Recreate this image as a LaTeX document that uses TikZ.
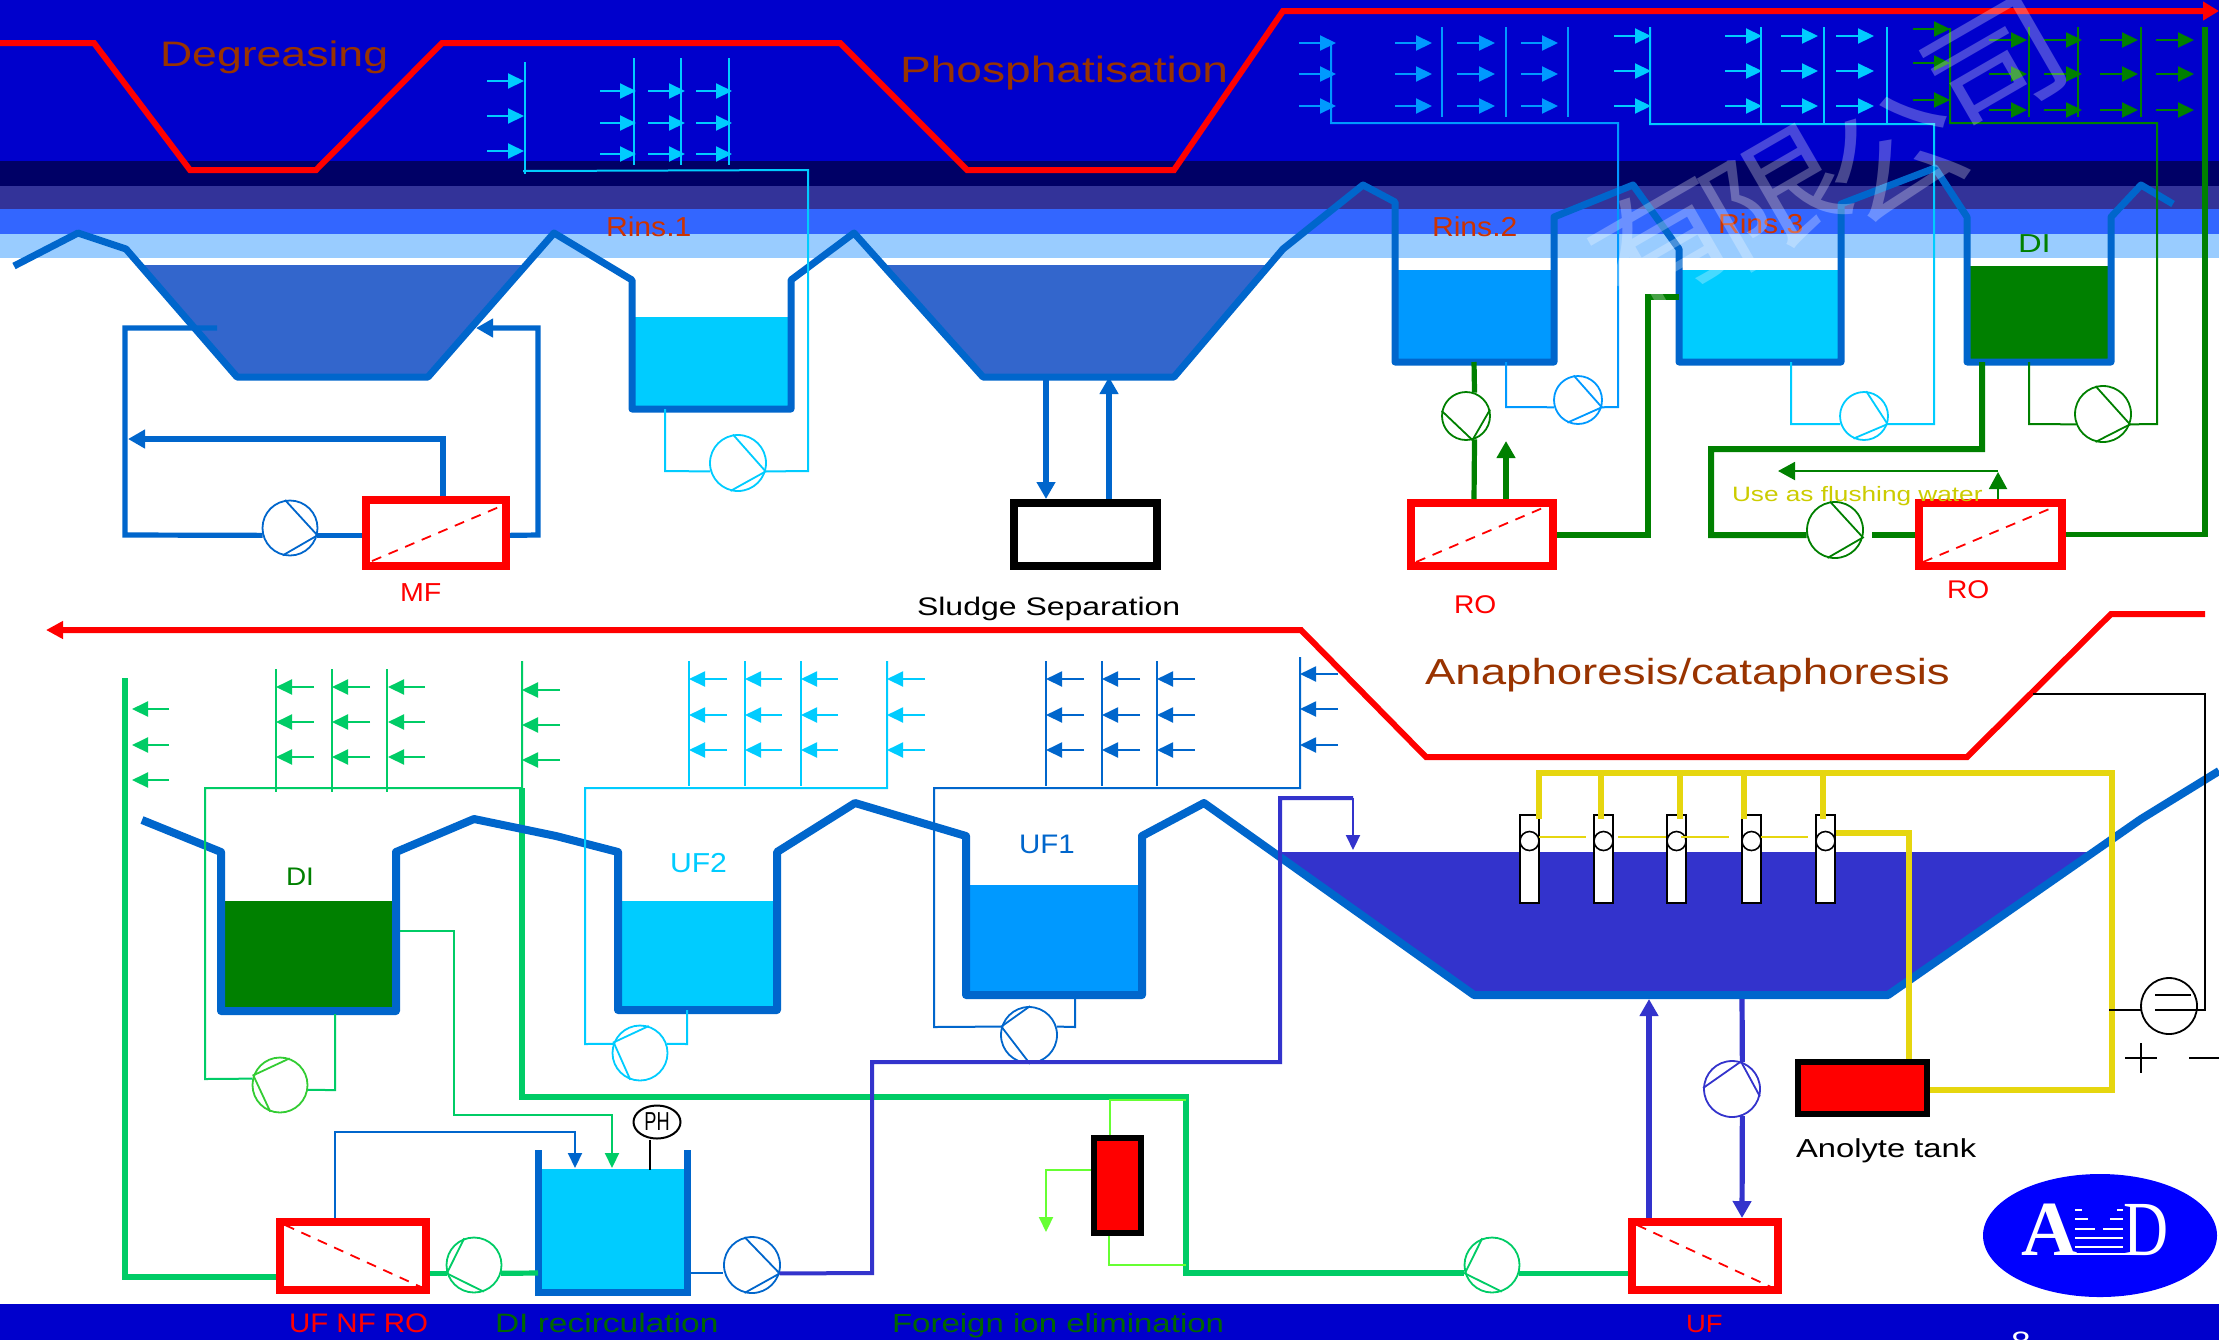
\documentclass[tikz,border=0pt]{standalone}
\usepackage{fontspec}
\setmainfont[FakeStretch=1.26]{Liberation Sans}
\newfontfamily\narrowf[FakeStretch=1.1]{Liberation Sans}
\newfontfamily\phf[FakeStretch=.7]{Liberation Sans}
\newfontfamily\cjkwm[FakeStretch=1.15]{Noto Sans CJK SC}
\newfontfamily\logoA{Liberation Serif}
\newfontfamily\logoD[FakeStretch=.8]{Liberation Serif}
\usetikzlibrary{arrows.meta,shapes.geometric}
\definecolor{bgblue}{HTML}{0000CC}
\definecolor{banda}{HTML}{000066}
\definecolor{bandb}{HTML}{333399}
\definecolor{bandc}{HTML}{3366FF}
\definecolor{bandd}{HTML}{99CCFF}
\definecolor{wallc}{HTML}{0066CC}
\definecolor{bathc}{HTML}{3366CC}
\definecolor{cyanw}{HTML}{00CCFF}
\definecolor{skyw}{HTML}{0099FF}
\definecolor{digreen}{HTML}{008000}
\definecolor{lgreen}{HTML}{00CC66}
\definecolor{mgreen}{HTML}{33CC33}
\definecolor{limec}{HTML}{66FF33}
\definecolor{purp}{HTML}{3333CC}
\definecolor{yell}{HTML}{E6D60F}
\definecolor{brownc}{HTML}{993300}
\definecolor{rinsc}{HTML}{CC3300}
\definecolor{flush}{HTML}{CCCC00}
\definecolor{dgtext}{HTML}{006600}
\definecolor{logoblue}{HTML}{0000FF}
\tikzset{
  redline/.style={red,line width=3pt,line join=miter},
  walls/.style={wallc,line width=3.5pt,line join=round,line cap=butt},
  wallsb/.style={walls,line width=4pt},
  thinp/.style={line width=1pt,line join=miter},
  midp/.style={line width=2pt,line join=miter},
  thickp/.style={line width=2.6pt,line join=miter},
  spr/.style={line width=1pt,-{Triangle[length=8pt,width=7.5pt]}},
  bigtip/.style={-{Triangle[length=8.5pt,width=9pt]}},
  smalltip/.style={-{Triangle[length=7.5pt,width=7pt]}},
  pumpc/.style={circle,inner sep=0pt,line width=.9pt},
  filt/.style={rectangle,draw=red,fill=white,line width=4pt,inner sep=0pt},
  tankbox/.style={rectangle,draw=black,fill=#1,line width=2.8pt,inner sep=0pt},
  cell/.style={rectangle,draw=black,fill=white,line width=.8pt,inner sep=0pt,minimum width=9.5pt,minimum height=44pt},
  cellc/.style={circle,draw=black,fill=white,line width=.8pt,inner sep=0pt,minimum size=9.5pt},
  dashd/.style={red,line width=.9pt,dash pattern=on 5pt off 4pt},
  txt/.style={anchor=base west,inner sep=0pt,outer sep=0pt},
  wm/.style={inner sep=0pt,text=white,text opacity=.28,rotate=30,font=\cjkwm\fontsize{62}{62}\selectfont},
}
\newcommand\pump[8]{%
  \node[pumpc,draw=#5,minimum size=#4*0.5pt] (#1) at (#2,#3) {};
  \draw[#5,line width=.9pt] (#1.#6) -- (#1.#7) -- (#1.#8);}
\newcommand\lab[6]{\node[txt,text=#4,font=\fontsize{#5}{#5}\selectfont] (#1) at (#2,#3) {#6};}
\newcommand\nlab[6]{\node[txt,text=#4,font=\narrowf\fontsize{#5}{#5}\selectfont] (#1) at (#2,#3) {#6};}
\newcommand\hdr[4]{\foreach \xx in {#2}{\draw[#1,thinp] (\xx,#3) -- (\xx,#4);}}
\newcommand\sprays[4]{\foreach \yy in {#4}{\draw[spr,#1] (#2,\yy) -- (#3,\yy);}}
\begin{document}
\begin{tikzpicture}[x=0.5pt,y=-0.5pt]
\useasboundingbox (0,0) rectangle (2219,1340);
\clip (0,0) rectangle (2219,1340);
\fill[white] (0,0) rectangle (2219,1340);
% background bands
\fill[bgblue] (0,0) rectangle (2219,161);
\fill[banda] (0,161) rectangle (2219,186);
\fill[bandb] (0,186) rectangle (2219,209);
\fill[bandc] (0,209) rectangle (2219,234);
\fill[bandd] (0,234) rectangle (2219,258);
\fill[bgblue] (0,1304) rectangle (2219,1340);
% top conveyor
\draw[redline,-{Triangle[length=8pt,width=9pt]}] (0,43) -- (94,43) -- (190,170) -- (316,170) -- (442,43) -- (840,43) -- (967,170) -- (1174,170) -- (1283,11) -- (2219,11);
% liquids upper row
\fill[bathc] (140,265) -- (526,265) -- (428,377) -- (237,377) -- cycle;
\fill[bathc] (882,265) -- (1270,265) -- (1174,377) -- (983,377) -- cycle;
\fill[cyanw] (632,317) rectangle (791,409);
\fill[skyw] (1395,270) rectangle (1554,362);
\fill[cyanw] (1679,270) rectangle (1841,362);
\fill[digreen] (1967,266) rectangle (2111,362);
% liquids lower row
\fill[digreen] (221,901) rectangle (396,1011);
\fill[cyanw] (618,901) rectangle (777,1010);
\fill[skyw] (966,885) rectangle (1142,995);
\fill[purp] (1278,852) -- (2090,852) -- (1888,995) -- (1474,995) -- cycle;
\fill[cyanw] (538,1169) rectangle (687,1292);
% feed of the foreign ion line sits under the walls
\draw[lgreen,thickp] (522,788) -- (522,1097) -- (1186,1097) -- (1186,1273) -- (1464,1273);
% tank walls
\draw[walls] (14,266) -- (78,233) -- (126,249) -- (237,377) -- (428,377) -- (554,233) -- (632,280) -- (632,409) -- (791,409) -- (791,280) -- (854,233) -- (983,377) -- (1174,377) -- (1283,249) -- (1363,185) -- (1395,202) -- (1395,362) -- (1554,362) -- (1554,217) -- (1633,185) -- (1679,249) -- (1679,362) -- (1841,362) -- (1841,204) -- (1935,168) -- (1967,217) -- (1967,362) -- (2111,362) -- (2111,217) -- (2141,185) -- (2173,204);
\draw[wallsb] (142,820) -- (221,852) -- (221,1011) -- (396,1011) -- (396,852) -- (474,819) -- (556,836) -- (618,852) -- (618,1010) -- (777,1010) -- (777,852) -- (855,803) -- (966,836) -- (966,995) -- (1142,995) -- (1142,836) -- (1204,803) -- (1474,995) -- (1888,995) -- (2141,819) -- (2219,771);
\draw[wallc,line width=3.5pt] (538,1150) -- (538,1292) -- (687,1292) -- (687,1150);
% process boxes
\node[filt,minimum width=70pt,minimum height=33pt] (mf) at (436,533) {};
\node[filt,minimum width=71pt,minimum height=31.5pt] (ro1) at (1482,534.5) {};
\node[filt,minimum width=71.5pt,minimum height=31.5pt] (ro2) at (1990.5,534.5) {};
\node[filt,draw=black,minimum width=71.5pt,minimum height=31.5pt] (sludge) at (1085.5,534.5) {};
\node[filt,minimum width=73pt,minimum height=34pt] (ufnf) at (353,1256) {};
\node[filt,minimum width=73pt,minimum height=34pt] (uf) at (1705,1256) {};
\node[tankbox=red,minimum width=64.7pt,minimum height=26.2pt] (anolyte) at (1862.5,1088) {};
\node[tankbox=red,minimum width=23.7pt,minimum height=47.7pt] (ionex) at (1117.5,1185.5) {};
\draw[dashd] (372,561) -- (499,507);
\draw[dashd] (1416,562) -- (1545,507);
\draw[dashd] (1923,562) -- (2054,507);
\draw[dashd] (285,1225) -- (421,1287);
\draw[dashd] (1637,1225) -- (1771,1287);
% pumps
\pump{mfp}{290}{528}{55}{wallc}{100}{-15}{-105}
\pump{r1p}{738}{463}{56}{cyanw}{100}{-17}{-105}
\pump{r2p}{1578}{400}{48}{skyw}{100}{-17}{-115}
\pump{r3p}{1864}{416}{48}{cyanw}{85}{-19}{-115}
\pump{dip}{2103}{414}{56}{digreen}{105}{-21}{-105}
\pump{rop}{1466}{416}{48}{digreen}{168}{-75}{15}
\pump{flp}{1835}{530}{56}{digreen}{100}{-15}{-105}
\pump{ldip}{280}{1085}{55}{mgreen}{70}{160}{-110}
\pump{rcp}{474}{1265}{55}{lgreen}{110}{197}{-70}
\pump{ufp}{1492}{1265}{55}{lgreen}{110}{197}{-70}
\pump{outp}{752}{1265}{56}{wallc}{105}{-17}{-105}
\pump{uf2p}{640}{1053}{55}{cyanw}{72}{158}{-110}
\pump{uf1p}{1029}{1035}{56}{wallc}{88}{163}{-88}
\pump{fdp}{1732}{1089}{56}{purp}{178}{72}{-15}
\node[pumpc,draw=black,minimum size=28pt] (dc) at (2169,1006) {};
% MF loop
\coordinate (mfin) at (217,328);
\draw[wallc,thickp] (mfin) -- (125,328) -- (125,535) -- (mfp.195);
\draw[wallc,thickp] (mfp.-15) -- (mfp.-15 -| mf.west);
\draw[wallc,thickp,bigtip] (443,0 |- mf.north) -- (443,439) -- (128,439);
\draw[wallc,thickp,bigtip] (mf.east |- mfp.-15) -- (538,535) -- (538,328) -- (476,328);
% sludge
\coordinate (bathout) at (1046,377);
\coordinate (bathin) at (1109,377);
\draw[wallc,thickp,bigtip] (bathout) -- (bathout |- sludge.north);
\draw[wallc,thickp,bigtip] (bathin |- sludge.north) -- (bathin);
% rinse 1 spray
\coordinate (r1out) at (665,409);
\draw[cyanw,thinp] (r1out) -- (665,471) -- (r1p.197);
\draw[cyanw,thinp] (r1p.-17) -- (808,471) -- (808,170) -- (523,171);
\hdr{cyanw}{525}{62}{174}
\hdr{cyanw}{634,681,729}{58}{165}
\sprays{cyanw}{487}{524}{81,116,151}
\sprays{cyanw}{600}{636}{91,123,154}
\sprays{cyanw}{648}{685}{91,123,154}
\sprays{cyanw}{696}{732}{91,123,154}
% rinse 2 spray
\coordinate (r2out) at (1506,362);
\draw[skyw,thinp] (r2out) -- (1506,407) -- (r2p.197);
\draw[skyw,thinp] (r2p.-17) -- (1618,407) -- (1618,123) -- (1331,123) -- (1331,42);
\hdr{skyw}{1442,1506,1568}{27}{117}
\sprays{skyw}{1299}{1336}{43,74,106}
\sprays{skyw}{1395}{1432}{43,74,106}
\sprays{skyw}{1457}{1495}{43,74,106}
\sprays{skyw}{1521}{1558}{43,74,106}
% rinse 3 spray
\coordinate (r3out) at (1791,362);
\draw[cyanw,thinp] (r3out) -- (1791,424) -- (r3p.199);
\draw[cyanw,thinp] (r3p.-19) -- (1934,424) -- (1934,124) -- (1650,124) -- (1650,27);
\hdr{cyanw}{1761,1824,1887}{27}{124}
\sprays{cyanw}{1614}{1651}{36,71,106}
\sprays{cyanw}{1725}{1762}{36,71,106}
\sprays{cyanw}{1781}{1818}{36,71,106}
\sprays{cyanw}{1836}{1874}{36,71,106}
% DI spray
\coordinate (diout) at (2029,362);
\draw[digreen,thinp] (diout) -- (2029,424) -- (dip.201);
\draw[digreen,thinp] (dip.-21) -- (2157,424) -- (2157,123) -- (1950,123) -- (1950,28);
\hdr{digreen}{2029,2078,2141}{27}{117}
\sprays{digreen}{1913}{1950}{29,63,100}
\sprays{digreen}{1989}{2027}{40,74,110}
\sprays{digreen}{2044}{2082}{40,74,110}
\sprays{digreen}{2100}{2138}{40,74,110}
\sprays{digreen}{2156}{2194}{40,74,110}
% RO 1
\coordinate (r2drain) at (1474,362);
\draw[digreen,thickp] (r2drain) -- (rop.70);
\draw[digreen,thickp] (rop.-70) -- (1474,0 |- ro1.north);
\draw[digreen,thickp,bigtip] (1506,0 |- ro1.north) -- (1506,441);
\coordinate (r3in) at (1679,297);
\draw[digreen,line width=3pt] (ro1.east) -- (1648,534.5) -- (1648,297) -- (r3in);
% RO 2
\coordinate (didrain) at (1982,362);
\draw[digreen,line width=3pt] (didrain) -- (1982,449) -- (1711,449) -- (1711,535) -- (flp.190);
\draw[digreen,line width=3pt] (1872,535) -- (1872,535 -| ro2.west);
\draw[digreen,thickp] (ro2.east) -- (2205,534.5) -- (2205,27);
\draw[digreen,thinp,bigtip] (1998,0 |- ro2.north) -- (1998,472);
\draw[digreen,thinp,bigtip] (1998,471) -- (1778,471);
% lower left DI recirculation
\coordinate (ldrain) at (335,1014);
\draw[lgreen,thinp] (ldrain) -- (335,1090) -- (ldip.-10);
\draw[lgreen,thinp] (ldip.167) -- (205,1079) -- (205,788) -- (522,788) -- (522,661);
\hdr{lgreen}{276,332,387}{669}{792}
\sprays{lgreen}{314}{276}{687,722,757}
\sprays{lgreen}{370}{332}{687,722,757}
\sprays{lgreen}{425}{388}{687,722,757}
\sprays{lgreen}{560}{522}{690,725,760}
\sprays{lgreen}{169}{132}{709,745,780}
\coordinate (ltop) at (125,678);
\draw[lgreen,thickp] (ltop) -- (125,1277) -- (125,1277 -| ufnf.west);
\coordinate (dovf) at (400,931);
\coordinate (rcin) at (612,1168);
\draw[lgreen,line width=1pt,smalltip] (dovf) -- (454,931) -- (454,1115) -- (612,1115) -- (rcin);
\coordinate (rcinb) at (575,1168);
\draw[wallc,line width=1pt,smalltip] (335,0 |- ufnf.north) -- (335,1132) -- (575,1132) -- (rcinb);
\draw[lgreen,thickp] (ufnf.east |- rcp.197) -- (rcp.197);
\draw[lgreen,thickp] (rcp.-17) -- (538,1273);
% pH sensor
\node[ellipse,draw=black,fill=white,line width=1pt,inner sep=0pt,minimum width=23.5pt,minimum height=16.5pt,font=\phf\fontsize{13}{13}\selectfont] (ph) at (657,1122) {PH};
\coordinate (phtip) at (650,1170);
\draw[black,line width=1pt] (650,0 |- ph.south) -- (phtip);
% recirculation outlet
\draw[wallc,midp,line width=1.2pt] (690,1273) -- (723,1273);
\draw[purp,midp] (outp.-17) -- (872,1273) -- (872,1062) -- (1280,1062) -- (1280,798) -- (1353,798);
\coordinate (bathtop) at (1353,850);
\draw[purp,thinp,smalltip] (1353,798) -- (bathtop);
% UF 2 loop
\coordinate (uf2d) at (687,1010);
\draw[cyanw,thinp] (uf2d) -- (687,1044) -- (uf2p.19);
\draw[cyanw,thinp] (uf2p.161) -- (585,1044) -- (585,788) -- (887,788) -- (887,661);
\hdr{cyanw}{689,745,801}{661}{786}
\sprays{cyanw}{727}{689}{679,715,750}
\sprays{cyanw}{782}{745}{679,715,750}
\sprays{cyanw}{838}{801}{679,715,750}
\sprays{cyanw}{925}{887}{679,715,750}
% UF 1 loop
\coordinate (uf1d) at (1075,996);
\draw[wallc,thinp] (uf1d) -- (1075,1027) -- (uf1p.17);
\draw[wallc,thinp] (uf1p.163) -- (934,1027) -- (934,788) -- (1300,788) -- (1300,657);
\hdr{wallc}{1046,1102,1157}{661}{786}
\sprays{wallc}{1084}{1046}{679,715,750}
\sprays{wallc}{1140}{1102}{679,715,750}
\sprays{wallc}{1195}{1157}{679,715,750}
\sprays{wallc}{1338}{1300}{674,709,745}
% lower conveyor
\draw[redline,{Triangle[length=8.5pt,width=8.5pt]}-] (46,630) -- (1301,630) -- (1426,757) -- (1967,757) -- (2111,614) -- (2205,614);
% foreign ion exchanger
\coordinate (ionarrow) at (1046,1232);
\draw[limec,thinp,smalltip] (ionex.west |- 0,1170) -- (1046,1170) -- (ionarrow);
\draw[limec,thinp] (1109,0 |- ionex.south) -- (1109,1265) -- (1186,1265);
\draw[limec,thinp] (1110,0 |- ionex.north) -- (1110,1100) -- (1186,1100);
\draw[lgreen,thickp] (ufp.-17) -- (ufp.-17 -| uf.west);
% UF circuit
\coordinate (uftop) at (1649,999);
\coordinate (ufdrain) at (1742,999);
\draw[purp,thickp,bigtip] (1649,0 |- uf.north) -- (uftop);
\draw[purp,thickp] (ufdrain) -- (fdp.69);
\draw[purp,thickp,bigtip] (fdp.-69) -- (1742,0 |- uf.north);
% anode cells
\foreach \nm/\cx in {a/1529.5,b/1603.5,c/1676.5,d/1751.5,e/1825.5}{
  \node[cell] (cell\nm) at (\cx,859) {};
  \node[cellc] (ring\nm) at (\cx,841) {};
}
\draw[yell,thickp] (1539,819) -- (1539,773) -- (2112,773) -- (2112,1090) -- (anolyte.east |- 0,1090);
\foreach \dx in {1601,1680,1744,1823}{\draw[yell,thickp] (\dx,773) -- (\dx,819);}
\draw[yell,thickp] (celle.east |- 0,833) -- (1909,833) -- (1909,0 |- anolyte.north);
\draw[yell,thinp] (1539,837) -- (1586,837);
\draw[yell,thinp] (1618,837) -- (1666,837);
\draw[yell,thinp] (1681,837) -- (1729,837);
\draw[yell,thinp] (1761,837) -- (1808,837);
% DC supply
\coordinate (psa) at (2033,694);
\coordinate (psb) at (2109,1010);
\draw[black,thinp] (psa) -- (2205,694) -- (2205,1010) -- (2155,1010);
\draw[black,thinp] (2142,1010) -- (psb);
\draw[black,thinp] (2155,995) -- (2191,995);
\draw[black,thinp] (2125,1058) -- (2157,1058);
\draw[black,thinp] (2141,1043) -- (2141,1073);
\draw[black,thinp] (2189,1058) -- (2219,1058);
% logo
\fill[logoblue] (2100,1235.5) ellipse [x radius=117,y radius=61.5];
\node[txt,text=white,font=\logoA\bfseries\fontsize{39}{39}\selectfont] (logoa) at (2021,1255) {A};
\node[txt,text=white,font=\logoD\fontsize{39}{39}\selectfont] (logod) at (2123,1255) {D};
\foreach \ya/\xa/\xb in {1210/2082/2117,1219/2088/2110,1229/2095/2103}{
  \draw[white,line width=1.3pt] (2075,\ya) -- (\xa,\ya);
  \draw[white,line width=1.3pt] (\xb,\ya) -- (2123,\ya);
}
\draw[white,line width=1.3pt] (2075,1238) -- (2123,1238);
\draw[white,line width=1.3pt] (2075,1247) -- (2123,1247);
\draw[white,line width=1.3pt] (2062,1254) -- (2135,1254);
% labels
\lab{tdeg}{160}{66}{brownc}{17.7}{Degreasing}
\lab{tpho}{900}{82}{brownc}{18.3}{Phosphatisation}
\nlab{tr1}{606}{236}{rinsc}{13.7}{Rins.1}
\nlab{tr2}{1432}{236}{rinsc}{13.7}{Rins.2}
\nlab{tr3}{1718}{233}{rinsc}{13.7}{Rins.3}
\lab{tdi}{2018}{252}{digreen}{13}{DI}
\nlab{tmf}{400}{601}{red}{13}{MF}
\lab{tsl}{917}{615}{black}{12.7}{Sludge Separation}
\nlab{tro1}{1454}{613}{red}{12.8}{RO}
\nlab{tro2}{1947}{598}{red}{12.8}{RO}
\lab{tfl}{1732}{501}{flush}{10.4}{Use as flushing water}
\lab{tana}{1425}{684}{brownc}{18.1}{Anaphoresis/cataphoresis}
\nlab{tdi2}{286}{885}{digreen}{12.7}{DI}
\nlab{tuf2}{670}{872}{cyanw}{13.7}{UF2}
\nlab{tuf1}{1019}{853}{wallc}{13.4}{UF1}
\lab{tano}{1796}{1157}{black}{13}{Anolyte tank}
\nlab{tbot1}{289}{1332}{red}{13.4}{UF NF RO}
\lab{tbot2}{495}{1332}{dgtext}{13.3}{DI recirculation}
\lab{tbot3}{892}{1332}{dgtext}{13.1}{Foreign ion elimination}
\nlab{tbot4}{1686}{1332}{red}{12.5}{UF}
\lab{tpage}{2011}{1351}{white}{14}{8}
% watermark
\node[wm] (wma) at (1662,243) {有};
\node[wm] (wmb) at (1775,197) {限};
\node[wm] (wmc) at (1894,157) {公};
\node[wm] (wmd) at (1996,67) {司};
\end{tikzpicture}
\end{document}
